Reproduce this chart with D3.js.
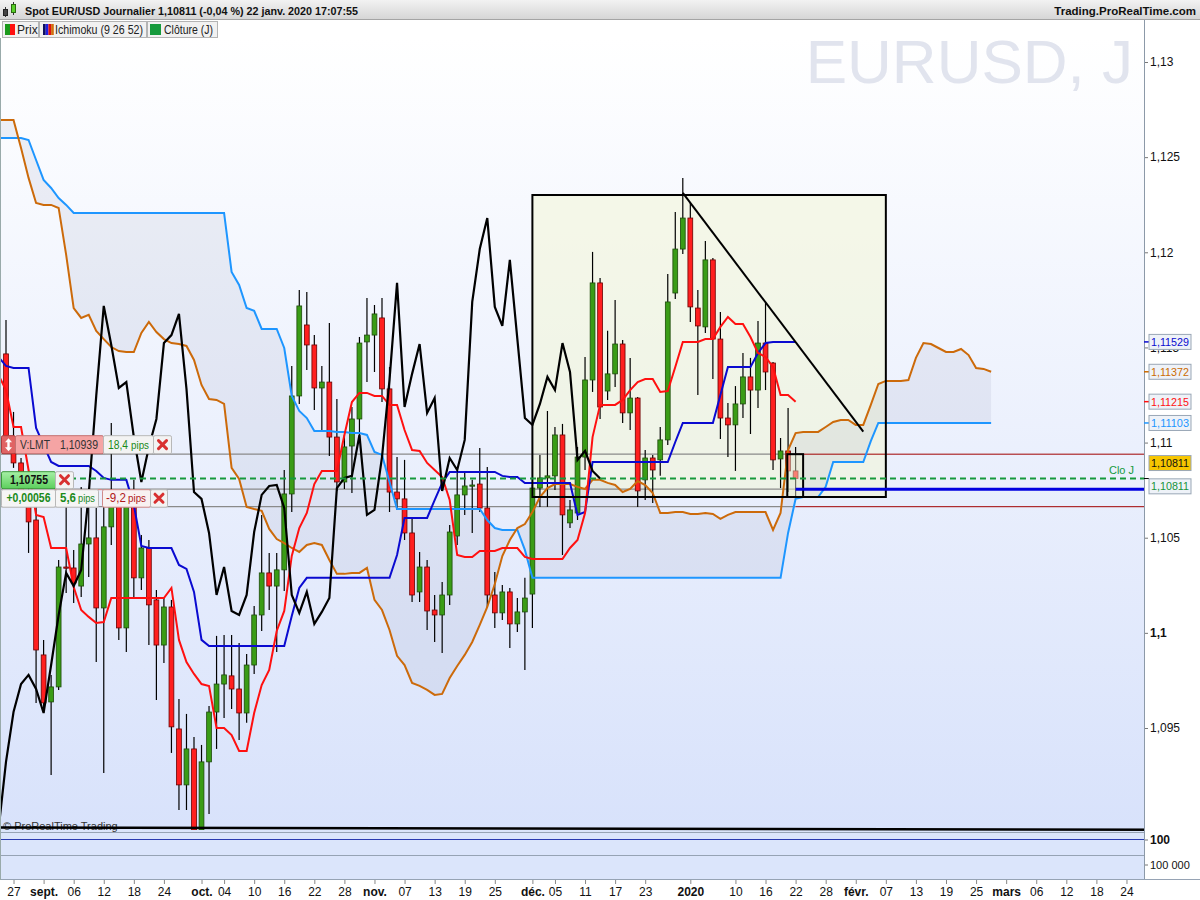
<!DOCTYPE html>
<html><head><meta charset="utf-8">
<script src="https://cdn.jsdelivr.net/npm/d3@7/dist/d3.min.js"></script>
<style>
html,body{margin:0;padding:0;background:#fff;}
svg{display:block;font-family:"Liberation Sans",Arial,Helvetica,sans-serif;}
</style></head><body>
<svg id="chart" width="1200" height="900"></svg>
<script>
// ---------------- DATA ----------------
const firstDay = "2019-08-23", lastDay = "2020-03-31";
const holidays = ["2019-12-25", "2020-01-01"];
const candleStart = "2019-08-26";
const lineStart = "2019-08-23";
const currentDay = "2020-01-22";
const chikouShift = 26;

const opens = [
1.11466,1.10987,1.10893,1.10725,1.10593,1.09884,1.09637,1.09716,1.10346,1.10341,
1.10246,1.10467,1.10499,1.10131,1.10557,1.10672,1.10026,1.10683,1.10289,1.10446,
1.10173,1.09936,1.10136,1.09495,1.09201,1.09390,1.08964,1.09322,1.09584,1.09731,
1.09774,1.09705,1.09579,1.09831,1.10094,1.10315,1.10246,1.10331,1.10730,1.11245,
1.11618,1.11513,1.11287,1.11318,1.11029,1.10793,1.10982,1.11124,1.11529,1.11565,
1.11655,1.11282,1.10740,1.10704,1.10525,1.10215,1.10346,1.10120,1.10094,1.10199,
1.10509,1.10725,1.10772,1.10782,1.10656,1.10199,1.10105,1.10215,1.10047,1.10110,
1.10204,1.10761,1.10814,1.10825,1.11040,1.10578,1.10630,1.10924,1.11329,1.11839,
1.11271,1.11361,1.11518,1.11156,1.11234,1.10804,1.10919,1.10909,1.11014,1.11786,
1.12017,1.12180,1.11707,1.11608,1.11960,1.11544,1.11129,1.11093,1.11203,1.11345,
1.11276,1.11523,1.11418,1.10914,1.10956,1.10851];
const highs = [
1.11644,1.11161,1.10919,1.10777,1.10672,1.09963,1.09779,1.10383,1.10840,1.10436,
1.10767,1.10662,1.10656,1.10698,1.11103,1.10698,1.10725,1.10804,1.10514,1.10488,
1.10225,1.10183,1.10173,1.09653,1.09574,1.09453,1.09411,1.09616,1.09984,1.09989,
1.09989,1.09947,1.09889,1.10141,1.10620,1.10420,1.10420,1.10856,1.11403,1.11802,
1.11791,1.11565,1.11403,1.11629,1.11229,1.11040,1.11187,1.11555,1.11760,1.11723,
1.11760,1.11397,1.10924,1.10909,1.10604,1.10425,1.10383,1.10199,1.10267,1.10567,
1.10840,1.10840,1.10804,1.10972,1.10872,1.10320,1.10252,1.10236,1.10183,1.10289,
1.10777,1.10935,1.11166,1.11082,1.11098,1.10698,1.10977,1.11450,1.12002,1.11865,
1.11587,1.11749,1.11539,1.11445,1.11240,1.10961,1.10935,1.11082,1.11886,1.12212,
1.12391,1.12259,1.11802,1.12059,1.11970,1.11686,1.11208,1.11297,1.11471,1.11445,
1.11639,1.11734,1.11424,1.11024,1.11182,1.10977];
const lows = [
1.10951,1.10867,1.10672,1.10420,1.09632,1.09579,1.09253,1.09700,1.10210,1.10157,
1.10189,1.10294,1.09847,1.09264,1.10462,1.09963,1.09900,1.10183,1.10225,1.09936,
1.09647,1.09842,1.09369,1.09069,1.09069,1.08850,1.08790,1.09048,1.09390,1.09553,
1.09600,1.09437,1.09527,1.09784,1.10010,1.10120,1.09900,1.10220,1.10635,1.11203,
1.11382,1.11171,1.11056,1.10930,1.10746,1.10756,1.10735,1.11014,1.11318,1.11371,
1.11213,1.10635,1.10646,1.10488,1.10162,1.10162,1.10015,1.09952,1.09894,1.10147,
1.10462,1.10620,1.10525,1.10635,1.10136,1.10026,1.10068,1.09921,1.10005,1.09805,
1.10026,1.10662,1.10662,1.10751,1.10409,1.10551,1.10593,1.10856,1.11266,1.11124,
1.11224,1.11292,1.11103,1.11066,1.10662,1.10698,1.10683,1.10825,1.10987,1.11755,
1.11991,1.11634,1.11250,1.11576,1.11334,1.11019,1.10924,1.10851,1.11129,1.11045,
1.11182,1.11276,1.10856,1.10761,1.10740,1.10714];
const closes = [
1.11014,1.10893,1.10725,1.10583,1.09910,1.09632,1.09716,1.10346,1.10341,1.10262,
1.10467,1.10499,1.10131,1.10557,1.10725,1.10026,1.10698,1.10289,1.10446,1.10147,
1.09936,1.10136,1.09506,1.09201,1.09390,1.08964,1.09322,1.09584,1.09731,1.09779,
1.09705,1.09579,1.09831,1.10094,1.10315,1.10246,1.10331,1.10730,1.11245,1.11718,
1.11513,1.11287,1.11318,1.11029,1.10793,1.10977,1.11124,1.11523,1.11565,1.11676,
1.11282,1.10740,1.10704,1.10525,1.10199,1.10346,1.10115,1.10094,1.10199,1.10530,
1.10725,1.10772,1.10777,1.10656,1.10199,1.10105,1.10215,1.10047,1.10110,1.10183,
1.10761,1.10814,1.10825,1.11040,1.10620,1.10646,1.10924,1.11329,1.11839,1.11187,
1.11361,1.11518,1.11156,1.11234,1.10746,1.10919,1.10856,1.11014,1.11739,1.12017,
1.12180,1.11713,1.11613,1.11960,1.11544,1.11129,1.11093,1.11203,1.11345,1.11276,
1.11523,1.11371,1.10909,1.10956,1.10851,1.10811];

// Ichimoku lines (start at lineStart)
const tenkan = [1.11355,
1.11276,1.11082,1.11082,1.10856,1.10620,1.10609,1.10446,1.10446,1.10446,1.10241,
1.10120,1.10084,1.10052,1.10057,1.10183,1.10183,1.10183,1.10183,1.10183,1.10183,
1.10183,1.10183,1.10236,1.09963,1.09847,1.09784,1.09731,1.09721,1.09500,1.09500,
1.09463,1.09379,1.09379,1.09579,1.09726,1.09805,1.10010,1.10115,1.10404,1.10551,
1.10630,1.10782,1.10851,1.10851,1.10851,1.11040,1.11213,1.11261,1.11261,1.11245,
1.11245,1.11198,1.11198,1.11066,1.10961,1.10956,1.10893,1.10856,1.10819,1.10698,
1.10409,1.10399,1.10399,1.10430,1.10430,1.10430,1.10446,1.10446,1.10446,1.10399,
1.10388,1.10388,1.10388,1.10388,1.10388,1.10446,1.10488,1.10630,1.11029,1.11198,
1.11198,1.11198,1.11224,1.11276,1.11318,1.11334,1.11334,1.11266,1.11271,1.11397,
1.11529,1.11529,1.11529,1.11544,1.11544,1.11608,1.11660,1.11623,1.11623,1.11555,
1.11471,1.11450,1.11397,1.11250,1.11250,1.11215];
const kijun = [1.11450,
1.11403,1.11392,1.11392,1.11392,1.11077,1.10987,1.10898,1.10877,1.10877,1.10877,
1.10877,1.10877,1.10851,1.10814,1.10804,1.10804,1.10804,1.10672,1.10457,1.10446,
1.10446,1.10446,1.10446,1.10357,1.10336,1.10215,1.09963,1.09931,1.09931,1.09931,
1.09931,1.09931,1.09931,1.09931,1.09931,1.09931,1.09931,1.09931,1.10089,1.10236,
1.10289,1.10289,1.10289,1.10289,1.10289,1.10289,1.10289,1.10289,1.10289,1.10289,
1.10289,1.10289,1.10409,1.10604,1.10604,1.10604,1.10604,1.10698,1.10788,1.10846,
1.10846,1.10846,1.10846,1.10846,1.10846,1.10846,1.10825,1.10819,1.10819,1.10788,
1.10788,1.10788,1.10788,1.10788,1.10788,1.10788,1.10620,1.10635,1.10898,1.10898,
1.10898,1.10898,1.10898,1.10898,1.10898,1.10898,1.10898,1.10898,1.10898,1.11003,
1.11103,1.11103,1.11103,1.11103,1.11103,1.11250,1.11397,1.11397,1.11397,1.11397,
1.11471,1.11523,1.11529,1.11529,1.11529,1.11529];
const senkouA = [1.12695,
1.12695,1.12695,1.12548,1.12391,1.12259,1.12249,1.12249,1.12233,1.11986,1.11707,
1.11655,1.11671,1.11587,1.11544,1.11502,1.11481,1.11476,1.11476,1.11576,1.11634,
1.11581,1.11544,1.11523,1.11518,1.11508,1.11434,1.11303,1.11229,1.11224,1.11203,
1.10867,1.10809,1.10662,1.10651,1.10641,1.10546,1.10493,1.10472,1.10446,1.10425,
1.10462,1.10472,1.10462,1.10383,1.10310,1.10310,1.10315,1.10315,1.10341,1.10173,
1.10120,1.10015,1.09879,1.09831,1.09737,1.09721,1.09700,1.09674,1.09679,1.09763,
1.09826,1.09884,1.09952,1.10042,1.10136,1.10257,1.10404,1.10488,1.10551,1.10572,
1.10635,1.10714,1.10761,1.10782,1.10782,1.10782,1.10767,1.10756,1.10804,1.10804,
1.10788,1.10777,1.10740,1.10756,1.10798,1.10777,1.10735,1.10630,1.10630,1.10635,
1.10635,1.10625,1.10625,1.10630,1.10625,1.10599,1.10620,1.10635,1.10635,1.10635,
1.10635,1.10635,1.10541,1.10630,1.10961,1.11050,1.11056,1.11056,1.11056,1.11082,
1.11108,1.11119,1.11119,1.11093,1.11093,1.11198,1.11308,1.11324,1.11324,1.11324,
1.11329,1.11445,1.11523,1.11518,1.11497,1.11476,1.11476,1.11492,1.11460,1.11392,
1.11387,1.11372];
const senkouB = [1.12601,
1.12601,1.12601,1.12601,1.12590,1.12485,1.12380,1.12338,1.12285,1.12249,1.12207,
1.12207,1.12207,1.12207,1.12207,1.12207,1.12207,1.12207,1.12207,1.12207,1.12207,
1.12207,1.12207,1.12207,1.12207,1.12207,1.12207,1.12207,1.12207,1.12207,1.12207,
1.11897,1.11828,1.11707,1.11692,1.11597,1.11597,1.11597,1.11497,1.11245,1.11166,
1.11129,1.11061,1.11061,1.11061,1.11056,1.11056,1.11050,1.11050,1.11040,1.10951,
1.10935,1.10793,1.10651,1.10651,1.10651,1.10651,1.10651,1.10651,1.10651,1.10651,
1.10651,1.10651,1.10651,1.10651,1.10593,1.10551,1.10541,1.10541,1.10541,1.10436,
1.10289,1.10289,1.10289,1.10289,1.10289,1.10289,1.10289,1.10289,1.10289,1.10289,
1.10289,1.10289,1.10289,1.10289,1.10289,1.10289,1.10289,1.10289,1.10289,1.10289,
1.10289,1.10289,1.10289,1.10289,1.10289,1.10289,1.10289,1.10289,1.10289,1.10289,
1.10289,1.10289,1.10289,1.10289,1.10525,1.10704,1.10714,1.10714,1.10714,1.10767,
1.10898,1.10898,1.10898,1.10898,1.10898,1.11008,1.11103,1.11103,1.11103,1.11103,
1.11103,1.11103,1.11103,1.11103,1.11103,1.11103,1.11103,1.11103,1.11103,1.11103,
1.11103,1.11103];

// axis ticks
const priceTicks = [1.095, 1.1, 1.105, 1.11, 1.115, 1.12, 1.125, 1.13];
const priceTickLabels = ["1,095", "1,1", "1,105", "1,11", "1,115", "1,12", "1,125", "1,13"];
const dateTicks = ["2019-08-27","2019-09-02","2019-09-06","2019-09-12","2019-09-18","2019-09-24","2019-10-01","2019-10-04","2019-10-10","2019-10-16","2019-10-22","2019-10-28","2019-11-01","2019-11-07","2019-11-13","2019-11-19","2019-11-25","2019-12-02","2019-12-05","2019-12-11","2019-12-17","2019-12-23","2020-01-02","2020-01-10","2020-01-16","2020-01-22","2020-01-28","2020-02-03","2020-02-07","2020-02-13","2020-02-19","2020-02-25","2020-03-02","2020-03-06","2020-03-12","2020-03-18","2020-03-24"];
const dateTickLabels = ["27","sept.","06","12","18","24","oct.","04","10","16","22","28","nov.","07","13","19","25","déc.","05","11","17","23","2020","10","16","22","28","févr.","07","13","19","25","mars","06","12","18","24"];
const boldDateLabels = ["sept.","oct.","nov.","déc.","2020","févr.","mars"];

// order / drawing levels
const orderPrices = [1.10939, 1.10755, 1.10663];   // limit, entry, stop
const closePrice = 1.10811;
const tagValues = [1.11529, 1.11372, 1.11215, 1.11103];
const tagTexts = ["1,11529", "1,11372", "1,11215", "1,11103"];
const tagColors = ["#0a0ad0", "#cc6a00", "#ff1010", "#1e96ff"];
const boxDates = ["2019-12-02", "2020-02-07"], boxPrices = [1.12301, 1.10714];
const smallBoxDates = ["2020-01-21", "2020-01-23"], smallBoxPrices = [1.10939, 1.10714];
const trendDates = ["2019-12-31", "2020-02-04"], trendPrices = [1.12312, 1.11057];
const floorDates = ["2019-08-23", "2020-03-31"], floorPrices = [1.08977, 1.08965];

// ---------------- SETUP ----------------
function tradingDays(a, b) {
  const out = []; const d = new Date(a + "T12:00:00Z"); const end = new Date(b + "T12:00:00Z");
  while (d <= end) {
    const w = d.getUTCDay(), s = d.toISOString().slice(0, 10);
    if (w !== 0 && w !== 6 && !holidays.includes(s)) out.push(s);
    d.setUTCDate(d.getUTCDate() + 1);
  }
  return out;
}
const days = tradingDays(firstDay, lastDay);
const step = 7.52, x0 = -1.52;
const x = d3.scalePoint().domain(days).range([x0, x0 + step * (days.length - 1)]);
const y = d3.scaleLinear().domain([1.095, 1.13]).range([728, 62]);
const plotRight = 1144, plotTop = 38, plotBottom = 830;

const svg = d3.select("#chart");
const defs = svg.append("defs");
const bg = defs.append("linearGradient").attr("id", "bg").attr("x1", 0).attr("y1", 0).attr("x2", 0).attr("y2", 1);
bg.append("stop").attr("offset", "0%").attr("stop-color", "#ffffff");
bg.append("stop").attr("offset", "100%").attr("stop-color", "#d8e2fb");
const hd = defs.append("linearGradient").attr("id", "hd").attr("x1", 0).attr("y1", 0).attr("x2", 0).attr("y2", 1);
hd.append("stop").attr("offset", "0%").attr("stop-color", "#f2f2f2");
hd.append("stop").attr("offset", "100%").attr("stop-color", "#d6d6d6");
const gb = defs.append("linearGradient").attr("id", "gb").attr("x1", 0).attr("y1", 0).attr("x2", 0).attr("y2", 1);
gb.append("stop").attr("offset", "0%").attr("stop-color", "#a6f0a6");
gb.append("stop").attr("offset", "100%").attr("stop-color", "#5ccf5c");
defs.append("clipPath").attr("id", "clip").append("rect")
  .attr("x", 0).attr("y", plotTop).attr("width", plotRight).attr("height", plotBottom - plotTop);

// backgrounds
svg.append("rect").attr("x", 0).attr("y", 0).attr("width", 1200).attr("height", 900).attr("fill", "#fff");
svg.append("rect").attr("x", 0).attr("y", plotTop).attr("width", plotRight).attr("height", plotBottom - plotTop).attr("fill", "url(#bg)");
svg.append("rect").attr("x", 0).attr("y", 830).attr("width", plotRight).attr("height", 50).attr("fill", "#dbe5fb");

// watermark
svg.append("text").attr("x", 1133).attr("y", 83).attr("text-anchor", "end")
  .attr("font-size", 62).attr("fill", "#e1e4ee").text("EURUSD, J");

const g = svg.append("g").attr("clip-path", "url(#clip)");

// big box fill
const bx1 = x(boxDates[0]), bx2 = x(boxDates[1]), by1 = y(boxPrices[0]), by2 = y(boxPrices[1]);
g.append("rect").attr("x", bx1).attr("y", by1).attr("width", bx2 - bx1).attr("height", by2 - by1)
  .attr("fill", "#f2f6d6").attr("fill-opacity", 0.55);

// cloud
const li0 = days.indexOf(lineStart);
const cloudPts = senkouA.map((a, i) => ({ d: days[li0 + i], a, b: senkouB[i] }));
g.append("path").datum(cloudPts)
  .attr("d", d3.area().x(p => x(p.d)).y0(p => y(p.a)).y1(p => y(p.b)))
  .attr("fill", "#8a8fb0").attr("fill-opacity", 0.13);

// horizontal order lines (left grey part / right coloured part)
const cx = x(currentDay);
orderPrices.forEach((p, i) => {
  g.append("line").attr("x1", 0).attr("x2", cx).attr("y1", y(p)).attr("y2", y(p))
    .attr("stroke", "#8a8a8a").attr("stroke-width", 1.2);
  if (i !== 1) g.append("line").attr("x1", cx).attr("x2", plotRight).attr("y1", y(p)).attr("y2", y(p))
    .attr("stroke", "#a00000").attr("stroke-width", 1);
});

// candles
const ci0 = days.indexOf(candleStart);
const candles = opens.map((o, i) => ({ d: days[ci0 + i], o, h: highs[i], l: lows[i], c: closes[i] }));
const cg = g.append("g");
cg.selectAll("line.wick").data(candles).join("line").attr("class", "wick")
  .attr("x1", d => x(d.d)).attr("x2", d => x(d.d)).attr("y1", d => y(d.h)).attr("y2", d => y(d.l))
  .attr("stroke", "#000").attr("stroke-width", 1.2);
cg.selectAll("rect.body").data(candles).join("rect").attr("class", "body")
  .attr("x", d => x(d.d) - 2.4).attr("width", 4.8)
  .attr("y", d => y(Math.max(d.o, d.c)))
  .attr("height", d => Math.max(1.2, Math.abs(y(d.o) - y(d.c))))
  .attr("fill", d => d.c >= d.o ? "#3a9c16" : "#ff1f1f")
  .attr("stroke", d => d.c >= d.o ? "#1d4a0a" : "#6a0000").attr("stroke-width", 0.8);

// ichimoku lines
const line = d3.line().x(p => x(p.d)).y(p => y(p.v));
function pts(arr) { return arr.map((v, i) => ({ d: days[li0 + i], v })); }
g.append("path").datum(pts(senkouB)).attr("d", line).attr("fill", "none").attr("stroke", "#1e96ff").attr("stroke-width", 2);
g.append("path").datum(pts(senkouA)).attr("d", line).attr("fill", "none").attr("stroke", "#cc6a0a").attr("stroke-width", 2);
g.append("path").datum(pts(kijun)).attr("d", line).attr("fill", "none").attr("stroke", "#0a0ad0").attr("stroke-width", 2);
g.append("path").datum(pts(tenkan)).attr("d", line).attr("fill", "none").attr("stroke", "#ff1010").attr("stroke-width", 2);
const chikou = closes.map((c, i) => ({ idx: ci0 + i - chikouShift, v: c })).filter(p => p.idx >= 0)
  .map(p => ({ d: days[p.idx], v: p.v }));
g.append("path").datum(chikou).attr("d", line).attr("fill", "none").attr("stroke", "#000").attr("stroke-width", 2.2);

// drawings
g.append("rect").attr("x", bx1).attr("y", by1).attr("width", bx2 - bx1).attr("height", by2 - by1)
  .attr("fill", "none").attr("stroke", "#000").attr("stroke-width", 2);
const sx1 = x(smallBoxDates[0]) - 0.8, sx2 = x(smallBoxDates[1]);
g.append("rect").attr("x", sx1).attr("y", y(smallBoxPrices[0])).attr("width", sx2 - sx1)
  .attr("height", y(smallBoxPrices[1]) - y(smallBoxPrices[0]))
  .attr("fill", "#f2f6d6").attr("fill-opacity", 0.45).attr("stroke", "#000").attr("stroke-width", 2);
g.append("line").attr("x1", x(trendDates[0])).attr("y1", y(trendPrices[0]))
  .attr("x2", x(trendDates[1])).attr("y2", y(trendPrices[1])).attr("stroke", "#000").attr("stroke-width", 2);

// close dashed + position
g.append("line").attr("x1", 0).attr("x2", plotRight).attr("y1", y(closePrice)).attr("y2", y(closePrice))
  .attr("stroke", "#169a3c").attr("stroke-width", 2).attr("stroke-dasharray", "6,4");
g.append("line").attr("x1", cx).attr("x2", plotRight).attr("y1", y(orderPrices[1])).attr("y2", y(orderPrices[1]))
  .attr("stroke", "#0000e0").attr("stroke-width", 3);
svg.append("text").attr("x", 1134).attr("y", y(closePrice) - 5).attr("text-anchor", "end")
  .attr("font-size", 11).attr("fill", "#169a3c").text("Clo J");

// floor line + copyright
svg.append("text").attr("x", 3).attr("y", 830).attr("font-size", 11).attr("fill", "#333").text("© ProRealTime Trading");
svg.append("line").attr("x1", x(floorDates[0])).attr("x2", x(floorDates[1]))
  .attr("y1", y(floorPrices[0])).attr("y2", y(floorPrices[1])).attr("stroke", "#000").attr("stroke-width", 2.5);

// lower mini panels
[832, 855, 879].forEach(v => svg.append("line").attr("x1", 0).attr("x2", plotRight).attr("y1", v + 0.5).attr("y2", v + 0.5)
  .attr("stroke", "#96a3b4").attr("stroke-width", 1));
const volY = d3.scaleLog().domain([100, 100000]).range([839.5, 864.5]);
svg.append("line").attr("x1", 0).attr("x2", plotRight).attr("y1", volY(100)).attr("y2", volY(100))
  .attr("stroke", "#2a3ab0").attr("stroke-width", 1);

// right axis
svg.append("rect").attr("x", plotRight).attr("y", plotTop).attr("width", 56).attr("height", 842).attr("fill", "#fff");
const ya = svg.append("g").attr("transform", `translate(${plotRight},0)`)
  .call(d3.axisRight(y).tickValues(priceTicks).tickSize(4).tickPadding(2)
    .tickFormat((d, i) => priceTickLabels[i]));
ya.select(".domain").remove();
ya.selectAll("line").attr("stroke", "#777");
ya.selectAll("text").attr("font-size", 12).attr("fill", "#111").attr("font-family", "Liberation Sans, Arial")
  .attr("font-weight", (d, i) => priceTickLabels[i] === "1,1" ? "bold" : "normal");
const va = svg.append("g").attr("transform", `translate(${plotRight},0)`)
  .call(d3.axisRight(volY).tickValues([100, 100000]).tickSize(4).tickPadding(2)
    .tickFormat(d => d === 100 ? "100" : "100 000"));
va.select(".domain").remove();
va.selectAll("line").attr("stroke", "#777");
va.selectAll("text").attr("font-family", "Liberation Sans, Arial").attr("fill", "#111")
  .attr("font-size", d => d === 100 ? 12 : 11).attr("font-weight", d => d === 100 ? "bold" : "normal");
svg.append("line").attr("x1", plotRight + 0.5).attr("x2", plotRight + 0.5).attr("y1", 20).attr("y2", 880)
  .attr("stroke", "#8c99a8").attr("stroke-width", 1);

// right tags
function tag(yc, txt, col, fill, stroke) {
  svg.append("rect").attr("x", 1149).attr("y", yc - 7.5).attr("width", 42).attr("height", 15)
    .attr("fill", fill).attr("stroke", stroke).attr("stroke-width", 1);
  svg.append("text").attr("x", 1170).attr("y", yc + 4).attr("text-anchor", "middle")
    .attr("font-size", 11).attr("textLength", 38).attr("lengthAdjust", "spacingAndGlyphs")
    .attr("fill", col).text(txt);
}
tagValues.forEach((v, i) => {
  svg.append("line").attr("x1", plotRight).attr("x2", 1149).attr("y1", y(v)).attr("y2", y(v)).attr("stroke", tagColors[i]).attr("stroke-width", 1.5);
  tag(y(v), tagTexts[i], tagColors[i], "#eef2f8", "#9aa7b6");
});
svg.append("line").attr("x1", plotRight).attr("x2", 1149).attr("y1", y(closePrice)).attr("y2", y(closePrice)).attr("stroke", "#000");
tag(y(closePrice) - 15.5, "1,10811", "#111", "#f7c600", "#9aa7b6");
tag(y(closePrice) + 7.8, "1,10811", "#16923a", "#eef2f8", "#9aa7b6");

// bottom axis
svg.append("rect").attr("x", 0).attr("y", 880).attr("width", 1200).attr("height", 20).attr("fill", "#fff");
const xa = svg.append("g").attr("transform", "translate(0,880)")
  .call(d3.axisBottom(x).tickValues(dateTicks).tickSize(4).tickPadding(3)
    .tickFormat((d, i) => dateTickLabels[i]));
xa.select(".domain").remove();
xa.selectAll("line").attr("stroke", "#888");
xa.selectAll("text").attr("font-size", 12).attr("fill", "#111").attr("font-family", "Liberation Sans, Arial")
  .attr("font-weight", (d, i) => boldDateLabels.includes(dateTickLabels[i]) ? "bold" : "normal");
svg.append("line").attr("x1", 0).attr("x2", 1200).attr("y1", 879.5).attr("y2", 879.5).attr("stroke", "#96a3b4");
svg.append("line").attr("x1", 0.5).attr("x2", 0.5).attr("y1", plotTop).attr("y2", 880).attr("stroke", "#9aa");

// header
svg.append("rect").attr("x", 0).attr("y", 0).attr("width", 1200).attr("height", 19).attr("fill", "url(#hd)");
svg.append("line").attr("x1", 0).attr("x2", 1200).attr("y1", 19.5).attr("y2", 19.5).attr("stroke", "#a4a4a4");
svg.append("line").attr("x1", 5.5).attr("x2", 5.5).attr("y1", 7).attr("y2", 17).attr("stroke", "#333");
svg.append("rect").attr("x", 3.5).attr("y", 9.5).attr("width", 4).attr("height", 6).attr("fill", "#444").attr("stroke", "#222");
svg.append("line").attr("x1", 13.5).attr("x2", 13.5).attr("y1", 2).attr("y2", 15).attr("stroke", "#333");
svg.append("rect").attr("x", 11.5).attr("y", 4.5).attr("width", 4).attr("height", 8).attr("fill", "#5ad02a").attr("stroke", "#2a6a10");
svg.append("text").attr("x", 25).attr("y", 15).attr("font-size", 11.5).attr("font-weight", "bold").attr("fill", "#111")
  .attr("textLength", 333).attr("lengthAdjust", "spacingAndGlyphs")
  .text("Spot EUR/USD Journalier 1,10811 (-0,04 %) 22 janv. 2020 17:07:55");
svg.append("text").attr("x", 1196).attr("y", 15).attr("text-anchor", "end").attr("font-size", 11.5).attr("font-weight", "bold").attr("fill", "#111")
  .text("Trading.ProRealTime.com");

// legend row
const leg = svg.append("g");
function legBox(x1, w) { leg.append("rect").attr("x", x1 + 0.5).attr("y", 21.5).attr("width", w).attr("height", 16).attr("fill", "#f1f1f1").attr("stroke", "#b4b4b4"); }
legBox(2, 36); legBox(39, 107); legBox(147, 70);
leg.append("rect").attr("x", 5).attr("y", 24).attr("width", 5).attr("height", 11).attr("fill", "#1c9a1c");
leg.append("rect").attr("x", 10).attr("y", 24).attr("width", 5).attr("height", 11).attr("fill", "#ff1010");
["#101060", "#2020e0", "#e01010", "#d07010"].forEach((c, i) =>
  leg.append("rect").attr("x", 43 + i * 2.7).attr("y", 24).attr("width", 2.7).attr("height", 11).attr("fill", c));
leg.append("rect").attr("x", 150).attr("y", 24).attr("width", 11).attr("height", 11).attr("fill", "#169a3c");
leg.append("text").attr("x", 17).attr("y", 34).attr("font-size", 12).attr("fill", "#222").text("Prix");
leg.append("text").attr("x", 55).attr("y", 34).attr("font-size", 12).attr("fill", "#222")
  .attr("textLength", 88).attr("lengthAdjust", "spacingAndGlyphs").text("Ichimoku (9 26 52)");
leg.append("text").attr("x", 164).attr("y", 34).attr("font-size", 12).attr("fill", "#222")
  .attr("textLength", 49).attr("lengthAdjust", "spacingAndGlyphs").text("Clôture (J)");

// order labels
const ol = svg.append("g");
function obox(x1, y1, w, h, fill, stroke) {
  ol.append("rect").attr("x", x1 + 0.5).attr("y", y1 + 0.5).attr("width", w).attr("height", h)
    .attr("fill", fill).attr("stroke", stroke).attr("rx", 1.5);
}
function cross(cxp, cyp) {
  ol.append("path").attr("d", `M${cxp - 4},${cyp - 4}L${cxp + 4},${cyp + 4}M${cxp + 4},${cyp - 4}L${cxp - 4},${cyp + 4}`)
    .attr("stroke", "#d83030").attr("stroke-width", 3).attr("stroke-linecap", "round");
}
function otext(xp, yp, t, col, size, weight, anchor, len) {
  const tx = ol.append("text").attr("x", xp).attr("y", yp).attr("font-size", size).attr("fill", col)
    .attr("font-weight", weight || "normal").attr("text-anchor", anchor || "start").text(t);
  if (len) tx.attr("textLength", len).attr("lengthAdjust", "spacingAndGlyphs");
  return tx;
}
const yL = y(orderPrices[0]), yE = y(orderPrices[1]), yS = y(orderPrices[2]);
// row 1
obox(1, yL - 19, 14, 18, "#e06464", "#b03c3c");
ol.append("path").attr("d", `M8.5,${yL - 16}L5,${yL - 12}L12,${yL - 12}Z M8.5,${yL - 3}L5,${yL - 7}L12,${yL - 7}Z M7.3,${yL - 12}h2.4v5h-2.4z`).attr("fill", "#fff");
obox(15, yL - 19, 88, 18, "#f5a4a4", "#c47272");
otext(20, yL - 5, "V:LMT", "#333", 12, "normal", "start", 30);
otext(60, yL - 5, "1,10939", "#333", 12, "normal", "start", 38);
obox(103, yL - 19, 50, 18, "#f3f3f3", "#b8b8b8");
otext(108, yL - 5, "18,4", "#1a8a1a", 12, "normal", "start", 20);
otext(131, yL - 5, "pips", "#1a8a1a", 10.5, "normal", "start", 18);
obox(153, yL - 19, 18, 18, "#f3f3f3", "#b8b8b8");
cross(162.5, yL - 9.5);
// row 2
obox(1, yE - 18, 54, 17, "url(#gb)", "#3a9a3a");
otext(29, yE - 5, "1,10755", "#111", 12, "bold", "middle", 38);
obox(55, yE - 18, 18, 17, "#f3f3f3", "#b8b8b8");
cross(64.5, yE - 9.5);
// row 3
ol.append("line").attr("x1", 55).attr("x2", 102).attr("y1", yE + 0.5).attr("y2", yE + 0.5).attr("stroke", "#e08a8a");
obox(1, yE, 54, 17.5, "#f5f5f5", "#b8b8b8");
otext(28.5, yE + 13, "+0,00056", "#1a8a1a", 12, "bold", "middle", 44);
obox(55, yE, 43, 17.5, "#f5f5f5", "#b8b8b8");
otext(60, yE + 13, "5,6", "#1a8a1a", 12, "bold", "start", 16);
otext(78, yE + 13, "pips", "#1a8a1a", 10.5, "normal", "start", 17);
obox(102, yE, 48, 17.5, "#f8f1f1", "#d08a8a");
otext(106, yE + 13, "-9,2", "#b01818", 12, "normal", "start", 20);
otext(128, yE + 13, "pips", "#b01818", 10.5, "normal", "start", 18);
obox(150, yE, 17, 17.5, "#f3f3f3", "#b8b8b8");
cross(159, yE + 9);
</script>
</body></html>
